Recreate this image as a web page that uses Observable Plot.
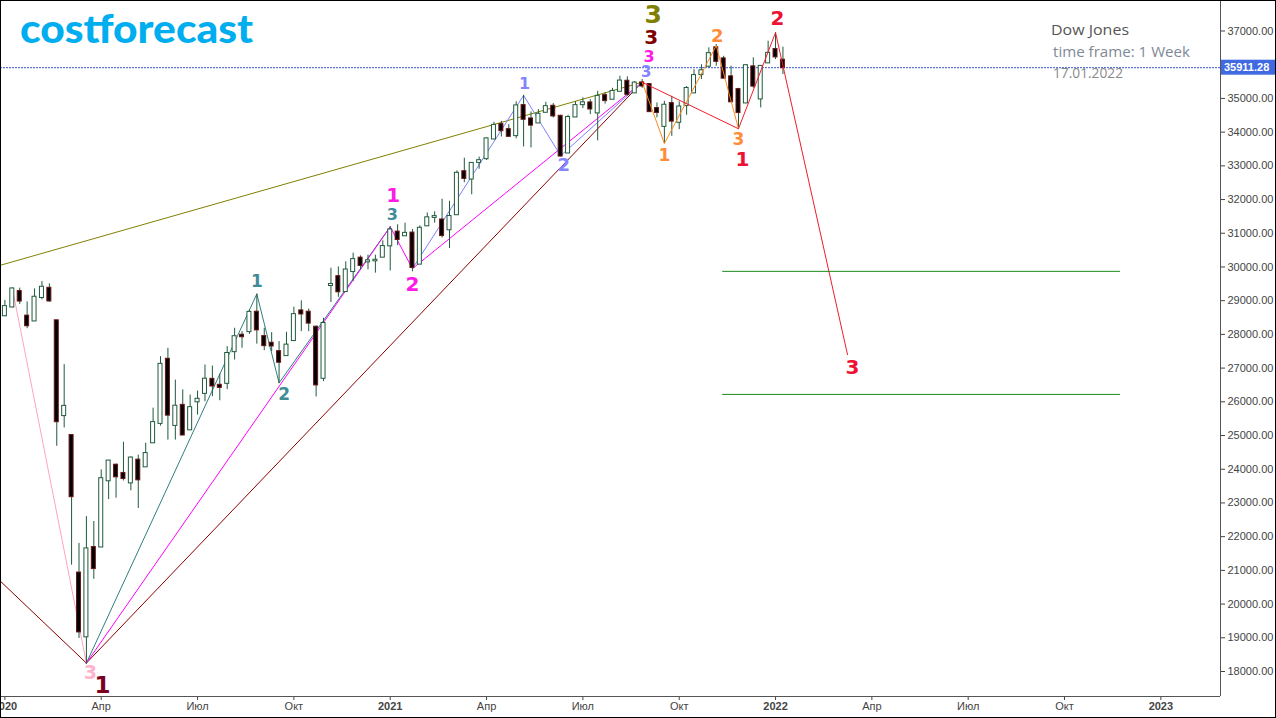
<!DOCTYPE html>
<html><head><meta charset="utf-8">
<script src="https://cdn.jsdelivr.net/npm/d3@7"></script>
<script src="https://cdn.jsdelivr.net/npm/@observablehq/plot@0.6"></script>
<style>
html,body{margin:0;padding:0;background:#fff;}
#wrap{position:relative;width:1276px;height:718px;overflow:hidden;background:#fff;}
#border{position:absolute;left:0;top:0;width:1276px;height:718px;box-sizing:border-box;border:1px solid #000;pointer-events:none;}
</style></head>
<body><div id="wrap"><div id="border"></div></div>
<script>
// ---------- DATA ----------
const firstWeek = "2020-01-06";
const lastWeekEnd = "2022-01-11";
const opens = [28553,28813,29271,28542,28399,29094,29368,28403,25591,25000,20920,19028,21678,21693,23657,24120,23875,23595,24270,24071,24784,25360,27262,25300,25895,25170,26000,26251,26667,26490,26548,27488,27975,28082,28658,27935,27738,27488,27371,27817,28697,28658,28212,26697,29450,29713,29270,29864,30262,30152,30182,30291,30627,31035,30925,31005,30084,31221,31470,31394,31104,31550,32826,32609,33102,33212,33796,34222,34074,33896,34787,34391,34273,34589,34767,34470,33381,34450,34816,34866,34570,35082,34975,35212,35509,35164,35460,35411,34698,34172,34846,34292,34787,35164,35708,35955,36500,36173,35640,35262,34866,35936,34985,36054,36450,36133];
const highs = [29010,29374,29373,28962,29350,29568,29500,28403,27102,25020,21800,22595,22450,23980,24264,24150,24800,24369,24418,24773,25812,27340,27588,26646,26353,26200,26320,27092,27063,26825,27636,28182,28082,28720,29199,28182,28052,27786,28063,28807,28994,28750,28250,28479,29965,30000,30150,30410,30330,30351,30350,30776,31193,31251,31300,31110,31221,31600,31637,32009,31950,32850,33227,33100,33260,33830,34292,34321,34222,34900,35091,34600,34668,34885,34846,34500,34500,34900,35015,34965,35212,35171,35300,35657,35640,35500,35560,35420,34866,34915,35063,34900,35350,35850,36000,36500,36599,36250,35955,35300,36005,36203,35950,36697,36953,36519];
const lows = [28523,28786,28889,28169,28399,29025,28955,24681,25226,21154,18980,18214,20735,21693,23100,23140,23650,23361,22836,24071,24784,25281,24864,24864,25012,25170,25607,26002,26150,26032,26361,27241,27589,28000,27710,27517,27488,26537,27371,27817,28082,28082,26143,26600,28943,29100,29270,29568,29914,29914,29817,30291,29881,30636,30925,29856,30084,31221,31300,30860,30547,31550,32500,32143,32900,33160,33796,33856,33856,33800,33559,33530,34273,34589,34420,33271,33381,34450,34700,34520,33741,34830,34975,35212,35063,35164,35300,34600,34421,33658,33875,34074,34500,35164,35559,35900,35955,35600,34890,34074,34866,35300,34718,36054,36153,35708];
const closes = [28824,29348,28989,28256,29102,29398,28992,25409,25865,23185,19174,21637,21053,23719,24242,23775,23724,24331,23685,24465,25383,27111,25605,25871,25015,25827,26075,26671,26469,26428,27433,27931,27930,28654,28133,27666,27657,27174,27682,28586,28606,28335,26501,28323,29479,29263,29910,30218,30046,30179,30199,30606,31097,30814,30997,29983,31148,31458,31494,30932,31496,32779,32628,33072,33153,33800,34200,34043,33875,34778,34382,34208,34529,34756,34480,33290,34433,34786,34870,34687,35061,34935,35208,35515,35120,35455,35369,34608,34584,34798,34326,34746,35295,35677,35820,36328,36100,35601,34899,34580,35971,35365,35950,36338,36231,35911.28];
const lastPrice = 35911.28;

// wave lines [date, price]
const waveMaroon  = [["2020-01-01",20700],["2020-03-23",18250],["2021-08-30",35480]];
const waveOlive   = [["2020-01-01",30044],["2021-08-30",35480]];
const wavePink    = [["2020-01-13",29374],["2020-03-23",18250]];
const waveTeal    = [["2020-03-23",18250],["2020-08-31",29199],["2020-09-21",26560],["2021-01-04",31193]];
const waveMagenta = [["2020-03-23",18250],["2021-01-04",31193],["2021-01-25",29950],["2021-08-30",35480]];
const waveBlue    = [["2021-01-25",29950],["2021-05-10",35091],["2021-06-14",33300],["2021-08-30",35480]];
const waveOrange  = [["2021-08-30",35480],["2021-09-20",33663],["2021-11-08",36565],["2021-11-29",34100]];
const waveRed     = [["2021-08-30",35480],["2021-11-29",34100],["2022-01-03",36953],["2022-03-12",27400]];
const targetUpper = [["2021-11-14",29870],["2022-11-24",29870]];
const targetLower = [["2021-11-14",26220],["2022-11-24",26220]];

// axis ticks
const xTickDates  = ["2020-01-06","2020-04-06","2020-07-06","2020-10-05","2021-01-04","2021-04-05","2021-07-05","2021-10-04","2022-01-03","2022-04-04","2022-07-04","2022-10-03","2023-01-02"];
const xTickLabels = ["2020","Апр","Июл","Окт","2021","Апр","Июл","Окт","2022","Апр","Июл","Окт","2023"];
const yTicks = [18000,19000,20000,21000,22000,23000,24000,25000,26000,27000,28000,29000,30000,31000,32000,33000,34000,35000,37000];

// ---------- LAYOUT ----------
const W = 1276, H = 718, MR = 56, MB = 22;
const plotW = W - MR, plotH = H - MB;
const DAY = 864e5;
const parse = s => new Date(s + "T00:00:00Z");
const pxPerDay = 7.41 / 7;
const t0 = +parse(firstWeek);
const x0px = 4.4;
const xDomain = [new Date(t0 - x0px / pxPerDay * DAY), new Date(t0 + (plotW - x0px) / pxPerDay * DAY)];
const k = (671 - 30.5) / 19000;
const yDomain = [18000 - (plotH - 671) / k, 37000 + 30.5 / k];

const weeks = d3.utcMonday.range(parse(firstWeek), parse(lastWeekEnd));
const candles = weeks.map((d, i) => ({date: d, open: opens[i], high: highs[i], low: lows[i], close: closes[i]}));
const bull = candles.filter(d => d.close >= d.open);
const bear = candles.filter(d => d.close < d.open);

const P = a => ({date: parse(a[0]), price: a[1]});
const line = (pts, color) => Plot.line(pts.map(P), {x: "date", y: "price", stroke: color, strokeWidth: 1});
const label = (pt, txt, color, size, dx, dy) => Plot.text([P(pt)], {
  x: "date", y: "price", text: () => txt, fill: color, fontSize: size,
  fontWeight: "bold", fontFamily: "'DejaVu Sans', Verdana, sans-serif", dx, dy
});
const tickLabelMap = new Map(xTickDates.map((d, i) => [+parse(d), xTickLabels[i]]));

const WICK = "#1f5a3c", BULL_STROKE = "#1f5a3c", BEAR_STROKE = "#6a1616";

const plot = Plot.plot({
  width: W, height: H,
  marginLeft: 0, marginRight: MR, marginTop: 0, marginBottom: MB,
  style: {fontFamily: "'Liberation Sans', Arial, sans-serif", fontSize: "11px", color: "#444", background: "#fff"},
  x: {type: "utc", domain: xDomain, ticks: xTickDates.map(parse), tickFormat: d => tickLabelMap.get(+d), tickSize: 4, tickPadding: 2, label: null},
  y: {domain: yDomain, axis: "right", ticks: yTicks, tickFormat: d => d.toFixed(2), tickSize: 4, tickPadding: 3, label: null},
  marks: [
    Plot.ruleY([yDomain[0]], {stroke: "#555"}),
    Plot.ruleX([xDomain[1]], {stroke: "#555"}),
    Plot.ruleY([lastPrice], {stroke: "#3355cc", strokeDasharray: "2,1"}),
    line(waveOlive, "#808000"),
    line(waveMaroon, "#8b0000"),
    line(wavePink, "#ffa3c4"),
    line(waveTeal, "#2f7f7f"),
    line(waveMagenta, "#ff00ff"),
    line(waveBlue, "#7f7fff"),
    Plot.ruleX(candles, {x: "date", y1: "low", y2: "high", stroke: WICK, strokeWidth: 1}),
    Plot.rect(bull, {x1: "date", x2: "date", y1: "open", y2: "close", insetLeft: -2, insetRight: -2, insetTop: -0.5, insetBottom: -0.5, fill: "#fff", stroke: BULL_STROKE, strokeWidth: 1}),
    Plot.rect(bear, {x1: "date", x2: "date", y1: "open", y2: "close", insetLeft: -2, insetRight: -2, insetTop: -0.5, insetBottom: -0.5, fill: "#000", stroke: BEAR_STROKE, strokeWidth: 1}),
    line(waveOrange, "#ff8a1c"),
    line(waveRed, "#f01c2c"),
    line(targetUpper, "#1a8a1a"),
    line(targetLower, "#1a8a1a"),
    // labels
    label(waveMaroon[1], "1", "#7d0022", 23, 16, 23),
    label(wavePink[1], "3", "#ffb4cc", 19, 4, 10),
    label(waveTeal[1], "1", "#3f8c98", 17, 0, -12),
    label(waveTeal[2], "2", "#3f8c98", 17, 5, 12),
    label(waveTeal[3], "3", "#3f8c98", 16, 2, -12),
    label(waveMagenta[1], "1", "#ff1ae8", 20, 3, -31),
    label(waveMagenta[2], "2", "#ff1ae8", 20, 0, 16),
    label(waveBlue[1], "1", "#8585ff", 16, 1, -11),
    label(waveBlue[2], "2", "#8585ff", 18, 3, 10),
    label(waveOrange[1], "1", "#ff8c3a", 17, 0, 12),
    label(waveOrange[2], "2", "#ff8c3a", 18, 1, -9),
    label(waveOrange[3], "3", "#ff8c3a", 17, 0, 11),
    label(waveRed[1], "1", "#ee1133", 20, 4, 31),
    label(waveRed[2], "2", "#ee1133", 20, 2, -14),
    label(waveRed[3], "3", "#ee1133", 20, 5, 13),
    label(waveBlue[3], "3", "#8585ff", 15, 4, -10),
    label(waveMagenta[3], "3", "#ff1ae8", 16, 7, -25),
    label(waveMaroon[2], "3", "#800000", 20, 9, -45),
    label(waveOlive[1], "3", "#808000", 25, 11, -67)
  ]
});

const svg = d3.select(plot);
// bold year labels
svg.selectAll("text").each(function() {
  const t = this.textContent;
  if (/^\d{4}$/.test(t)) d3.select(this).attr("font-weight", "bold");
});
// current price label
const yS = plot.scale("y");
const yp = yS.apply(lastPrice);
svg.append("rect").attr("x", plotW + 1).attr("y", yp - 7.5).attr("width", MR - 1).attr("height", 15).attr("fill", "#4169e1");
svg.append("text").attr("x", plotW + 4).attr("y", yp + 4).attr("fill", "#fff").attr("font-weight", "bold")
  .attr("text-anchor", "start").attr("font-size", 11).attr("font-family", "'Liberation Sans', Arial, sans-serif").text(lastPrice.toFixed(2));
// logo
svg.append("text").attr("x", 20).attr("y", 43).attr("text-anchor", "start").attr("font-family", "Lato, 'Open Sans', sans-serif").attr("font-weight", 900)
  .attr("font-size", 40).attr("fill", "#00aeef").attr("textLength", 233).attr("lengthAdjust", "spacingAndGlyphs").text("costforecast");
// info
const info = [["Dow Jones", 1051, 35, 15, "#555555", 78], ["time frame: 1 Week", 1053, 57, 14, "#7f8896", 137], ["17.01.2022", 1053, 78, 14, "#8a8a8a", 70]];
info.forEach(([t, x, y, s, c, w]) => svg.append("text").attr("x", x).attr("y", y).attr("text-anchor", "start").attr("font-family", "'Open Sans', sans-serif")
  .attr("font-size", s).attr("fill", c).attr("textLength", w).attr("lengthAdjust", "spacingAndGlyphs").text(t));

document.getElementById("wrap").insertBefore(plot, document.getElementById("border"));
plot.style.position = "absolute"; plot.style.left = "0"; plot.style.top = "0";
</script>
</body></html>
